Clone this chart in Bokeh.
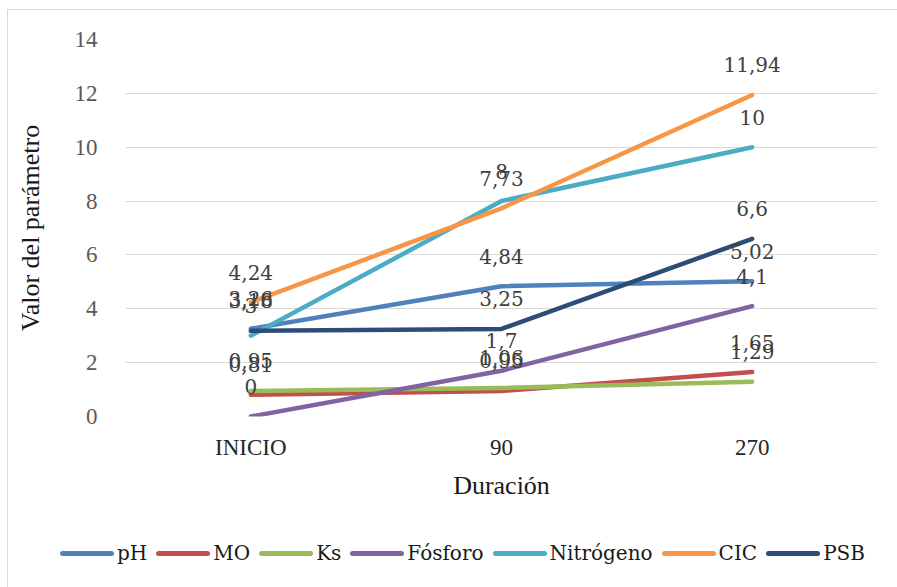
from bokeh.plotting import figure
from bokeh.models import ColumnDataSource, FixedTicker, Div
from bokeh.layouts import column
from bokeh.core.properties import value
from bokeh.embed import file_html
from bokeh.resources import INLINE

categories = ["INICIO", "90", "270"]
series_names = ["pH", "MO", "Ks", "Fósforo", "Nitrógeno", "CIC", "PSB"]
ph = [3.26, 4.84, 5.02]
mo = [0.81, 0.95, 1.65]
ks = [0.95, 1.06, 1.29]
fosforo = [0, 1.7, 4.1]
nitrogeno = [3, 8, 10]
cic = [4.24, 7.73, 11.94]
psb = [3.18, 3.25, 6.6]
y_ticks = [0, 2, 4, 6, 8, 10, 12, 14]

series_values = [ph, mo, ks, fosforo, nitrogeno, cic, psb]
colors = ["#4F81BD", "#C0504D", "#9BBB59", "#8064A2", "#4BACC6", "#F79646", "#2C4D75"]

serif = "Liberation Serif"
label_font = "DejaVu Serif"

p = figure(x_range=categories, y_range=(0, 14), width=882, height=505,
           output_backend="svg", toolbar_location=None,
           min_border_left=117, min_border_right=13, min_border_top=29, min_border_bottom=99)
p.x_range.range_padding = 0
p.outline_line_color = None

p.xgrid.grid_line_color = None
p.ygrid.grid_line_color = "#D9D9D9"
p.ygrid.grid_line_width = 1
p.yaxis.ticker = FixedTicker(ticks=y_ticks)

for ax in (p.xaxis[0], p.yaxis[0]):
    ax.axis_line_color = None
    ax.major_tick_line_color = None
    ax.minor_tick_line_color = None
    ax.major_label_text_font = serif
    ax.major_label_text_font_size = "23px"
    ax.axis_label_text_font = serif
    ax.axis_label_text_font_size = "26px"
    ax.axis_label_text_font_style = "normal"
    ax.axis_label_text_color = "#1a1a1a"

p.yaxis.major_label_text_color = "#595959"
p.xaxis.major_label_text_color = "#262626"
p.yaxis.major_label_standoff = 22
p.xaxis.major_label_standoff = 12
p.yaxis.axis_label = "Valor del parámetro"
p.xaxis.axis_label = "Duración"
p.yaxis.axis_label_standoff = 27
p.xaxis.axis_label_standoff = 8

for name, vals, col in zip(series_names, series_values, colors):
    p.line(categories, vals, line_color=col, line_width=4.5, line_cap="round", line_join="round",
           legend_label=name)
p.legend.visible = False

for name, vals, col in zip(series_names, series_values, colors):
    labels = [f"{v:g}".replace(".", ",") for v in vals]
    src = ColumnDataSource(dict(x=categories, y=vals, t=labels))
    p.text(x="x", y="y", text="t", source=src, text_align="center", text_baseline="middle",
           y_offset=-30, text_font=value(label_font), text_font_size="20px",
           text_color="#404040")

# legend strip below the chart
parts = []
for name, col in zip(series_names, colors):
    parts.append(
        f'<span style="display:inline-flex;align-items:center;margin-right:9px;">'
        f'<span style="display:inline-block;width:54px;height:5px;border-radius:3px;'
        f'background:{col};margin-right:3px;"></span>'
        f'<span>{name}</span></span>'
    )
legend_html = (
    '<div style="display:flex;justify-content:center;align-items:center;'
    'box-sizing:border-box;width:882px;height:65px;padding:1px 0 0 26px;'
    "font-family:'DejaVu Serif';font-size:20px;color:#1a1a1a;white-space:nowrap;\">"
    + "".join(parts) + "</div>"
)
lf = Div(text=legend_html, width=882, height=65)

layout = column(p, lf, spacing=0)
layout.styles = {"margin-left": "7px", "margin-top": "9px", "border": "1px solid #D9D9D9"}

open("out.html", "w").write(file_html(layout, INLINE))
